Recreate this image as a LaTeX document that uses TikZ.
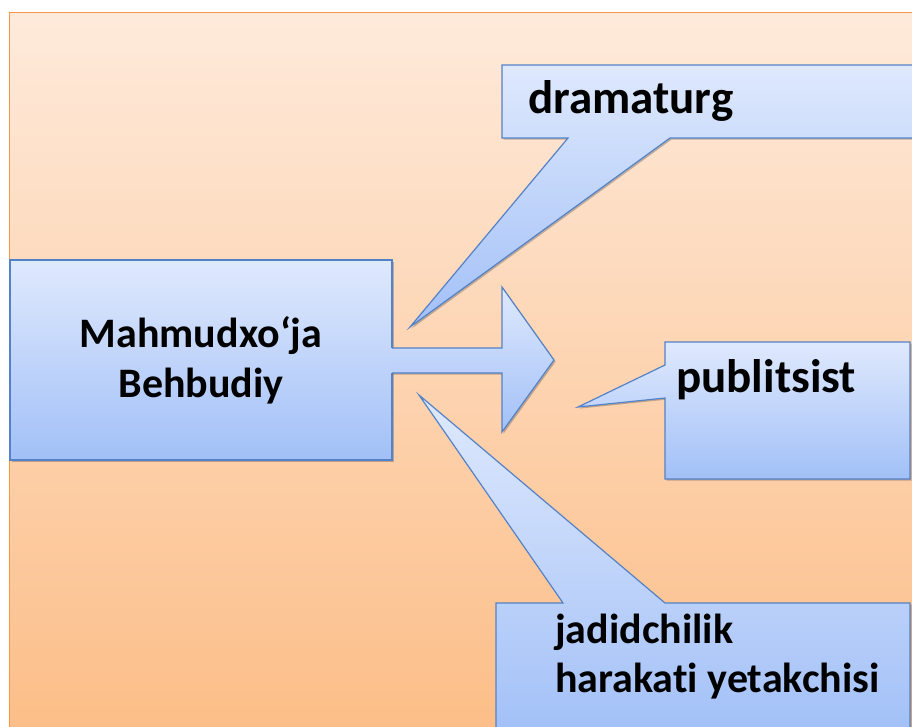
\documentclass[tikz,border=0pt]{standalone}
\usepackage{fontspec}
\setmainfont[Ligatures={NoCommon}]{Carlito}
\usetikzlibrary{shadows}
\definecolor{bgtop}{RGB}{254,234,219}
\definecolor{bgbot}{RGB}{252,190,136}
\definecolor{bgline}{RGB}{247,150,70}
\definecolor{bluetop}{RGB}{223,233,253}
\definecolor{bluebot}{RGB}{162,192,247}
\definecolor{blueline}{RGB}{84,130,200}
\tikzset{
  bluefill/.style={top color=bluetop, bottom color=bluebot},
  blueedge/.style={draw=blueline, line width=1.2pt, line join=miter},
  shadowed/.style={drop shadow={shadow xshift=1.6pt, shadow yshift=-1.6pt, opacity=0.35, fill=black!70}},
  lbl/.style={font=\fontsize{42}{50}\selectfont\bfseries, inner sep=0pt, text=black},
  biglbl/.style={lbl, font=\fontsize{47}{56}\selectfont\bfseries},
}
\begin{document}
\begin{tikzpicture}[x=1pt,y=-1pt]
\useasboundingbox (0,0) rectangle (912,726);
\begin{scope}
\clip (0,0) rectangle (912,726);
% background panel
\path[top color=bgtop, bottom color=bgbot, draw=bgline, line width=1.5pt] (9.5,12.5) rectangle (915,730);
% main box
\node[bluefill, blueedge, shadowed, minimum width=382pt, minimum height=200pt, align=center, lbl] (main) at (201,360) {Mahmudxo‘ja\\[0pt]Behbudiy};
% block arrow
\path[bluefill, shadowed] (390,348) -- (502,348) -- (502,287) -- (554,360) -- (502,432) -- (502,373) -- (390,373) -- cycle;
\draw[blueedge] (392,348) -- (502,348) -- (502,287) -- (554,360) -- (502,432) -- (502,373) -- (392,373);
% dramaturg callout
\path[bluefill, blueedge, shadowed] (502,65) -- (918,65) -- (918,138) -- (670,138) -- (410,327) -- (568,138) -- (502,138) -- cycle;
\node[biglbl, anchor=base west] (drama) at (528,113) {dramaturg};
% publitsist callout
\path[bluefill, blueedge, shadowed] (665,342) -- (910,342) -- (910,479) -- (665,479) -- (665,398) -- (578,407) -- (665,365) -- cycle;
\node[biglbl, anchor=base west] (publ) at (676,392) {publitsist};
% jadidchilik callout
\path[bluefill, blueedge, shadowed] (496,603) -- (563,603) -- (419,395) -- (665,603) -- (910,603) -- (910,735) -- (496,735) -- cycle;
\node[lbl, anchor=base west] (jadid1) at (555,643) {jadidchilik};
\node[lbl, anchor=base west] (jadid2) at (555,692) {harakati yetakchisi};
\end{scope}
\end{tikzpicture}
\end{document}
